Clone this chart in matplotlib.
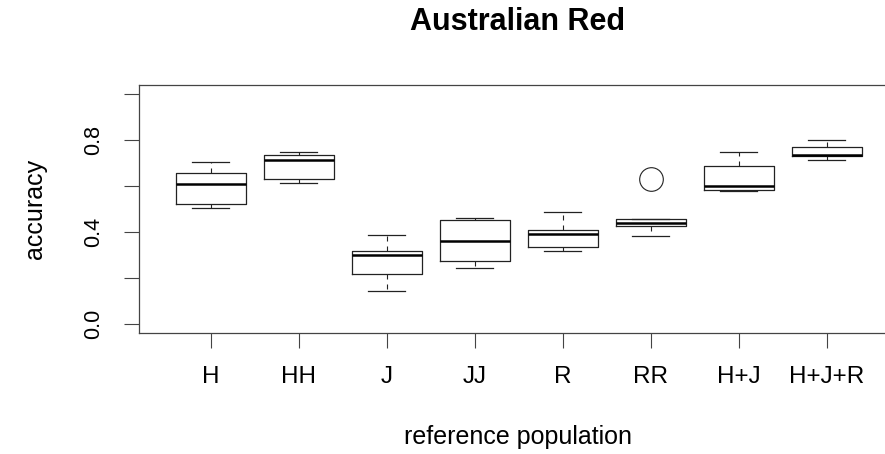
import matplotlib
matplotlib.use("Agg")
import matplotlib.pyplot as plt

plt.rcParams['font.family'] = ['Liberation Sans', 'DejaVu Sans']

# Accuracy summaries per reference population
categories = ["H", "HH", "J", "JJ", "R", "RR", "H+J", "H+J+R"]
whisker_low = [0.503, 0.612, 0.140, 0.244, 0.317, 0.382, 0.576, 0.712]
q1 = [0.520, 0.631, 0.214, 0.272, 0.333, 0.424, 0.581, 0.729]
median = [0.609, 0.715, 0.298, 0.360, 0.392, 0.439, 0.599, 0.734]
q3 = [0.657, 0.735, 0.317, 0.450, 0.408, 0.456, 0.685, 0.768]
whisker_high = [0.705, 0.750, 0.386, 0.462, 0.487, 0.456, 0.750, 0.799]
outliers = [[], [], [], [], [], [0.631], [], []]

y_ticks = [0.0, 0.2, 0.4, 0.6, 0.8, 1.0]
y_tick_labels = ["0.0", "", "0.4", "", "0.8", ""]

stats = []
for i, name in enumerate(categories):
    stats.append(dict(label=name, whislo=whisker_low[i], q1=q1[i], med=median[i],
                      q3=q3[i], whishi=whisker_high[i], fliers=outliers[i]))

fig = plt.figure(figsize=(8.85, 4.54), dpi=100)
ax = fig.add_axes([139 / 885, (454 - 332.7) / 454, (898 - 139) / 885, (332.7 - 85) / 454])

line_col = "#222222"
ax.bxp(stats, positions=range(1, len(categories) + 1), widths=0.8, capwidths=0.42,
       boxprops=dict(color=line_col, linewidth=0.9),
       medianprops=dict(color="black", linewidth=1.8),
       whiskerprops=dict(color=line_col, linewidth=0.8, linestyle=(0, (4.5, 4.5))),
       capprops=dict(color=line_col, linewidth=0.9),
       flierprops=dict(marker='o', markersize=17, markerfacecolor='none',
                       markeredgecolor=line_col, markeredgewidth=0.8))

ax.set_xlim(0.185, 8.81)
ax.set_ylim(-0.04, 1.04)
ax.set_yticks(y_ticks)
ax.set_yticklabels(y_tick_labels, rotation=90, va='center', fontsize=15.5)
ax.set_xticks(range(1, len(categories) + 1))
ax.set_xticklabels(categories, fontsize=17.5)
ax.tick_params(axis='y', length=11, width=0.8, color="#444444", pad=14)
ax.tick_params(axis='x', length=11, width=0.8, color="#444444", pad=13)
for s in ax.spines.values():
    s.set_color("#444444")
    s.set_linewidth(0.9)

fig.text(518 / 885, 1 - 22 / 454, "Australian Red", ha='center', va='center',
         fontsize=22, fontweight='bold')
fig.text(518 / 885, 1 - 437 / 454, "reference population", ha='center', va='center',
         fontsize=18)
fig.text(35 / 885, 1 - 208.5 / 454, "accuracy", ha='center', va='center',
         fontsize=18, rotation=90)

fig.savefig("out.png", dpi=100)
